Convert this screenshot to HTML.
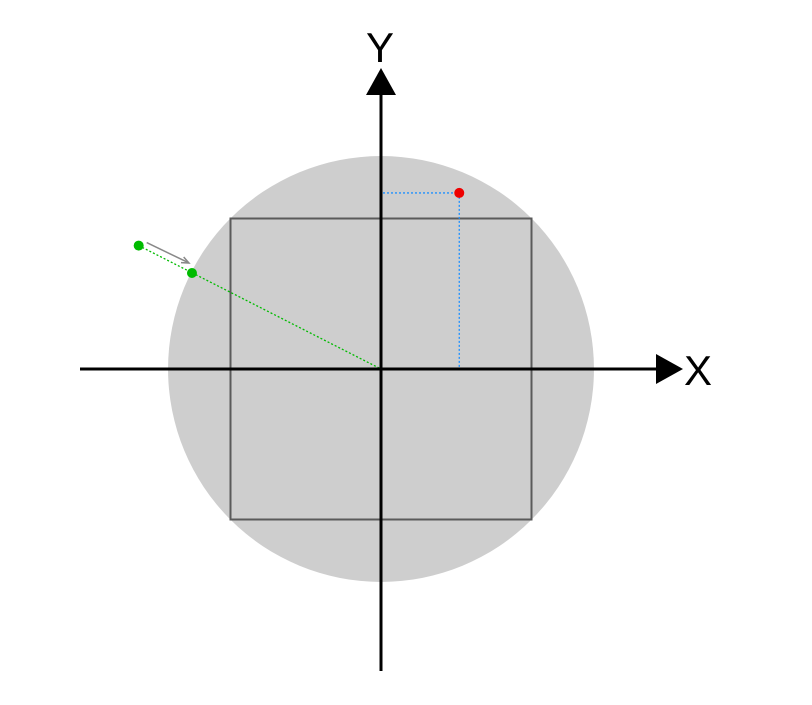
<!DOCTYPE html>
<html><head><meta charset="utf-8"><style>
html,body{margin:0;padding:0;background:#fff;width:812px;height:705px;overflow:hidden}
svg{display:block}
</style></head><body>
<svg id="chart" width="812" height="705">
</svg>
<script>
const pointLabels=["red-point","green-outer","green-inner"];
const pointX=[0.52,-1.61,-1.256];
const pointY=[1.17,0.82,0.638];
const circleR=[1.415];
const squareHalf=[1];
const cx=381,cy=369,unit=150.5;
const sx=v=>cx+v*unit, sy=v=>cy-v*unit;
const svg=document.getElementById('chart');
const NS='http://www.w3.org/2000/svg';
function mk(t,a,name){const e=document.createElementNS(NS,t);for(const k in a)e.setAttribute(k,a[k]);


svg.appendChild(e);return e;}
mk('circle',{cx:cx,cy:cy,r:circleR[0]*unit,fill:'#cecece'},'circle-region');
mk('rect',{x:sx(-squareHalf[0]),y:sy(squareHalf[0]),width:2*squareHalf[0]*unit,height:2*squareHalf[0]*unit,fill:'none',stroke:'#5a5a5a','stroke-width':2},'unit-square');
// projections
mk('line',{x1:cx+2,y1:sy(pointY[0]),x2:sx(pointX[0]),y2:sy(pointY[0]),stroke:'#1e90ff','stroke-width':1.3,'stroke-dasharray':'2,2'},'red-point-y-projection');
mk('line',{x1:sx(pointX[0]),y1:sy(pointY[0]),x2:sx(pointX[0]),y2:cy,stroke:'#1e90ff','stroke-width':1.3,'stroke-dasharray':'2,2'},'red-point-x-projection');
mk('line',{x1:sx(pointX[1]),y1:sy(pointY[1]),x2:cx,y2:cy,stroke:'#00bb00','stroke-width':1.3,'stroke-dasharray':'2,2'},'green-ray');
// arrow
const ax1=sx(pointX[1])+8,ay1=sy(pointY[1])-3,ax2=sx(pointX[2])-3,ay2=sy(pointY[2])-10;
mk('line',{x1:ax1,y1:ay1,x2:ax2,y2:ay2,stroke:'#888','stroke-width':1.5},'projection-arrow');
const ang=Math.atan2(ay2-ay1,ax2-ax1);
const hp=[[ax2,ay2],[ax2-8*Math.cos(ang-0.4),ay2-8*Math.sin(ang-0.4)],[ax2-8*Math.cos(ang+0.4),ay2-8*Math.sin(ang+0.4)]];
mk('polyline',{points:hp[1].join(',')+' '+hp[0].join(',')+' '+hp[2].join(','),fill:'none',stroke:'#888','stroke-width':1.5},'projection-arrowhead');
// axes
mk('line',{x1:80,y1:cy,x2:660,y2:cy,stroke:'#000','stroke-width':3},'x-axis');
mk('polygon',{points:'656,354 683,369 656,384',fill:'#000'},'x-axis-arrowhead');
mk('line',{x1:cx,y1:92,x2:cx,y2:671,stroke:'#000','stroke-width':3},'y-axis');
mk('polygon',{points:'366,95 381,68 396,95',fill:'#000'},'y-axis-arrowhead');
const tx=mk('text',{x:698,y:385,'font-family':'Liberation Sans, sans-serif','font-size':42,'text-anchor':'middle'},'x-axis-label');tx.textContent='X';
const ty=mk('text',{x:380,y:62,'font-family':'Liberation Sans, sans-serif','font-size':42,'text-anchor':'middle'},'y-axis-label');ty.textContent='Y';
const cols=['#ee0000','#00bb00','#00bb00'];
for(let i=0;i<pointX.length;i++){
  const c=mk('circle',{cx:sx(pointX[i]),cy:sy(pointY[i]),r:5,fill:cols[i]},pointLabels[i]);
}
</script>
</body></html>
